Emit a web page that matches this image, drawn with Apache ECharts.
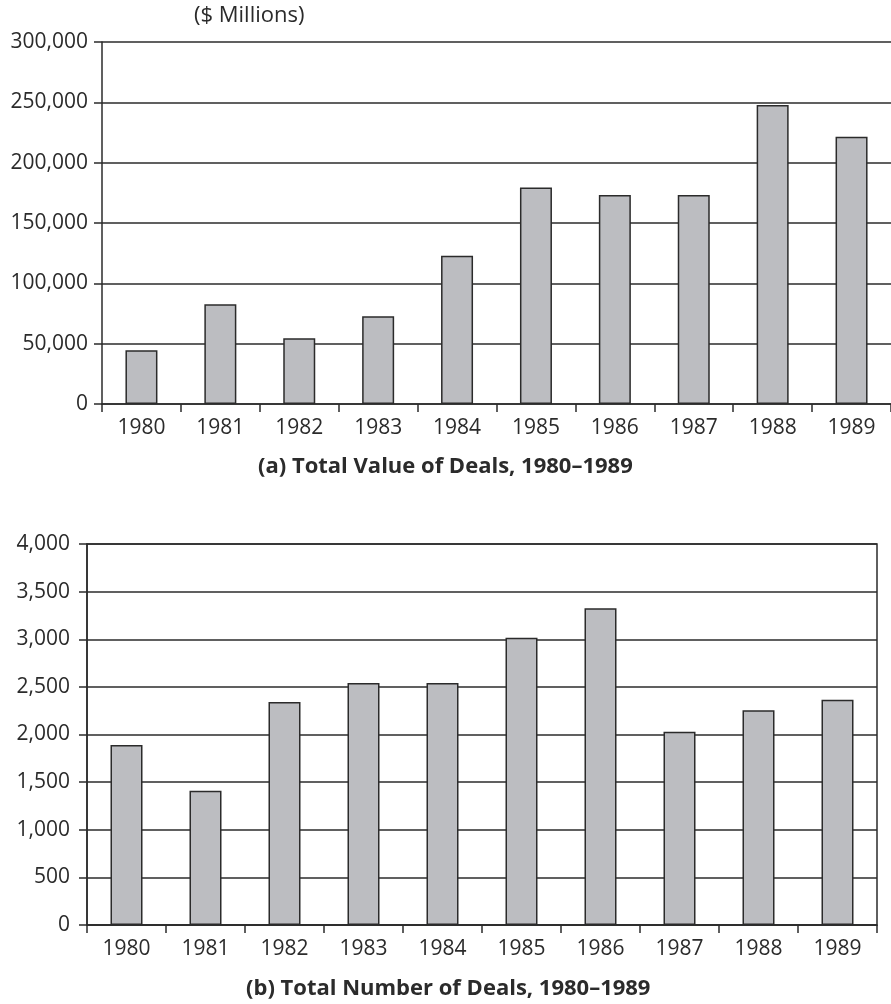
<!DOCTYPE html>
<html>
<head>
<meta charset="utf-8">
<script src="https://cdn.jsdelivr.net/npm/echarts@6/dist/echarts.min.js"></script>
<style>
  html, body { margin: 0; padding: 0; background: #fff; }
  #chart { width: 891px; height: 1004px; }
</style>
</head>
<body>
<div id="chart"></div>
<script>
// data
const years = ['1980', '1981', '1982', '1983', '1984', '1985', '1986', '1987', '1988', '1989'];
const dealValue = [44500, 82600, 54500, 72800, 122800, 179500, 173200, 173200, 247800, 221500]; // $ millions
const dealCount = [1890, 1410, 2340, 2540, 2540, 3015, 3325, 2030, 2255, 2365];

const ink = '#2b2b2b';
const font = 'Open Sans';

const chart = echarts.init(document.getElementById('chart'));

function xAxis(grid) {
    return {
        type: 'category',
        gridIndex: grid,
        data: years,
        axisLine: { lineStyle: { color: ink, width: 1.5 } },
        axisTick: { show: true, length: 8, lineStyle: { color: ink, width: 1.5 } },
        axisLabel: { color: ink, fontFamily: font, fontSize: 21, margin: 14 }
    };
}

function yAxis(grid, max, interval, gap) {
    return {
        type: 'value',
        gridIndex: grid,
        min: 0,
        max: max,
        interval: interval,
        axisLine: { show: true, lineStyle: { color: ink, width: 1.5 } },
        axisTick: { show: true, length: 8, lineStyle: { color: ink, width: 1.5 } },
        axisLabel: {
            color: ink, fontFamily: font, fontSize: 21, margin: gap,
            formatter: v => v.toLocaleString('en-US')
        },
        splitLine: { lineStyle: { color: ink, width: 1.5 } }
    };
}

const barStyle = { color: '#bcbdc1', borderColor: ink, borderWidth: 1.5 };

chart.setOption({
    animation: false,
    grid: [
        { left: 102, right: -1, top: 42, bottom: 600 },
        { left: 87, right: 14, top: 544, bottom: 79, show: true, borderColor: ink, borderWidth: 1.5 }
    ],
    xAxis: [xAxis(0), xAxis(1)],
    yAxis: [yAxis(0, 300000, 50000, 14), yAxis(1, 4000, 500, 17)],
    graphic: [
        { type: 'text', left: 194, top: 5, style: { text: '($ Millions)', fill: ink, font: '22px "Open Sans"' } },
        { type: 'text', left: 258, top: 456, style: { text: '(a) Total Value of Deals, 1980–1989', fill: ink, font: 'bold 22px "Open Sans"' } },
        { type: 'text', left: 246, top: 978, style: { text: '(b) Total Number of Deals, 1980–1989', fill: ink, font: 'bold 22px "Open Sans"' } }
    ],
    series: [
        { type: 'bar', xAxisIndex: 0, yAxisIndex: 0, data: dealValue, barWidth: 32, itemStyle: barStyle },
        { type: 'bar', xAxisIndex: 1, yAxisIndex: 1, data: dealCount, barWidth: 32, itemStyle: barStyle }
    ]
});
</script>
</body>
</html>
